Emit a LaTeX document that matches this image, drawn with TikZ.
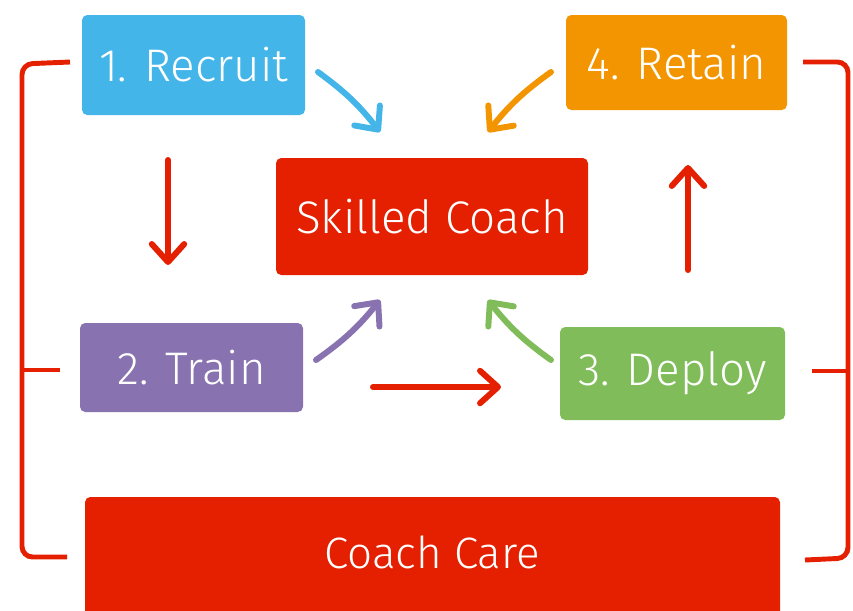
\documentclass[tikz,border=0pt]{standalone}
\usepackage{fontspec}
\setmainfont{Fira Sans Light}
\usetikzlibrary{arrows.meta}
\definecolor{cblue}{RGB}{67,181,232}
\definecolor{corange}{RGB}{242,149,0}
\definecolor{cred}{RGB}{229,32,0}
\definecolor{cpurple}{RGB}{136,114,176}
\definecolor{cgreen}{RGB}{128,189,90}
\tikzset{
  boxstyle/.style={rectangle, rounded corners=3pt, text=white, inner sep=0pt, font=\fontsize{26}{30}\selectfont},
  arr/.style={line width=3.4pt, line cap=round, -{Straight Barb[round, length=3.6mm, width=6.5mm, line width=3.4pt]}},
  brk/.style={line width=2.8pt, cred, rounded corners=6pt}
}
\begin{document}
\begin{tikzpicture}[x=0.02cm, y=-0.02cm]
\useasboundingbox (0,0) rectangle (853,610);
% boxes
\node[boxstyle, fill=cblue, minimum width=223*0.02cm, minimum height=100*0.02cm] (recruit) at (193.5,65) {1. Recruit};
\node[boxstyle, fill=corange, minimum width=221*0.02cm, minimum height=95*0.02cm] (retain) at (676.5,62.5) {4. Retain};
\node[boxstyle, fill=cred, minimum width=312*0.02cm, minimum height=117*0.02cm, font=\fontsize{26}{30}\selectfont] (skilled) at (432,216.5) {Skilled Coach};
\node[boxstyle, fill=cpurple, minimum width=223*0.02cm, minimum height=89*0.02cm] (train) at (191.5,367.5) {2. Train};
\node[boxstyle, fill=cgreen, minimum width=225*0.02cm, minimum height=93*0.02cm] (deploy) at (672.5,373.5) {3. Deploy};
\fill[cred, rounded corners=3pt] (85,497) rectangle (780,616);
\node[text=white, font=\fontsize{25}{30}\selectfont] (care) at (432,552) {Coach Care};
% coordinates for arrows
\coordinate (a1s) at (318,72); \coordinate (a1e) at (380,132);
\coordinate (a2s) at (551,72); \coordinate (a2e) at (488,132);
\coordinate (a3s) at (168,160); \coordinate (a3e) at (168,265);
\coordinate (a4s) at (688,270); \coordinate (a4e) at (688,165);
\coordinate (a5s) at (316,360); \coordinate (a5e) at (380,300);
\coordinate (a6s) at (551,360); \coordinate (a6e) at (488,300);
\coordinate (a7s) at (373,387); \coordinate (a7e) at (501,387);
\draw[arr, cblue] (a1s) to[bend left=8] (a1e);
\draw[arr, corange] (a2s) to[bend right=8] (a2e);
\draw[arr, cred] (a3s) -- (a3e);
\draw[arr, cred] (a4s) -- (a4e);
\draw[arr, cpurple] (a5s) to[bend right=8] (a5e);
\draw[arr, cgreen] (a6s) to[bend left=8] (a6e);
\draw[arr, cred] (a7s) -- (a7e);
% brackets
\coordinate (lt) at (70,62); \coordinate (lm) at (60,370); \coordinate (lb) at (67,557);
\draw[brk] (lt) -- (22,64) -- (22,557) -- (lb);
\draw[brk] (22,370) -- (lm);
\coordinate (rt) at (803,62); \coordinate (rm) at (812,371); \coordinate (rb) at (805,560);
\draw[brk] (rt) -- (848,62) -- (848,558) -- (rb);
\draw[brk] (848,371) -- (rm);
\end{tikzpicture}
\end{document}
